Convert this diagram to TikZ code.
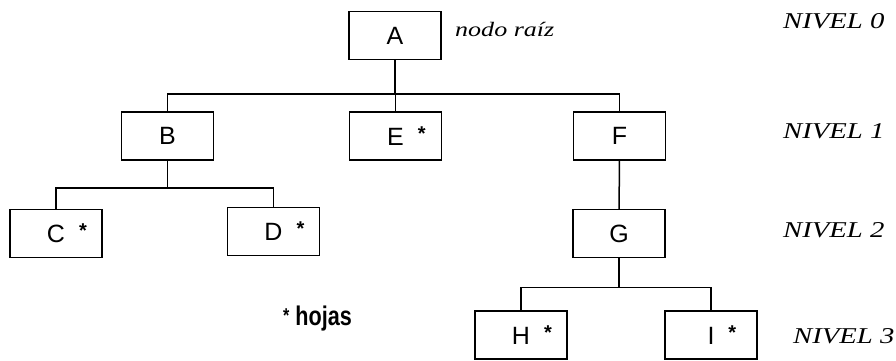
\documentclass[tikz,border=0pt]{standalone}
\usepackage{fontspec}
\setmainfont{Liberation Sans}
\newfontfamily\nivelfont[FakeStretch=1.27]{Liberation Serif}
\newfontfamily\hojasfont[FakeStretch=0.8]{Liberation Sans}
\usetikzlibrary{calc,positioning}

\tikzset{
  caja/.style={draw,line width=1.5pt,minimum width=92pt,minimum height=48pt,inner sep=0pt,font=\fontsize{25}{25}\selectfont},
  rama/.style={line width=1.5pt},
  nivel/.style={anchor=base west,inner sep=0pt,font=\nivelfont\itshape\fontsize{22.6}{24}\selectfont}
}
\newcommand{\hoja}[1]{#1\rlap{\hspace{14pt}\raisebox{5pt}{\fontsize{20}{20}\selectfont\bfseries *}}}

\begin{document}
\begin{tikzpicture}[x=1pt,y=1pt]
        \useasboundingbox (0,0) rectangle (896,-360);

        % nodos del arbol
        \node[caja] (A) at (395,-35.5) {A};
        \node[caja] (B) at (167.5,-136) {B};
        \node[caja] (E) at (395.5,-136) {\hoja{E}};
        \node[caja] (F) at (619.5,-136) {F};
        \node[caja] (C) at (56,-233.5) {\hoja{C}};
        \node[caja] (D) at (273.5,-231.5) {\hoja{D}};
        \node[caja] (G) at (619,-233.5) {G};
        \node[caja] (H) at (521,-335) {\hoja{H}};
        \node[caja] (I) at (711,-335) {\hoja{I}};

        \coordinate (jA) at ($(A.south)+(0,-33.5)$);
        \coordinate (jB) at ($(B.south)+(0,-27)$);
        \coordinate (jG) at ($(G.south)+(0,-29)$);

        \draw[rama] (A) -- (jA);
        \foreach \c in {B,E,F} {
          \draw[rama] (jA) -| (\c);
        }
        \draw[rama] (B) -- (jB);
        \foreach \c in {C,D} {
          \draw[rama] (jB) -| (\c);
        }
        \draw[rama] (F) -- (G);
        \draw[rama] (G) -- (jG);
        \foreach \c in {H,I} {
          \draw[rama] (jG) -| (\c);
        }

        % etiquetas
        \node[nivel,font=\nivelfont\itshape\fontsize{20.5}{22}\selectfont] (raiz) at (455,-36) {nodo raíz};
        \foreach \n/\x/\y in {0/783/-28,1/783/-138,2/783/-237,3/793/-343} {
          \node[nivel] (nivel\n) at (\x,\y) {NIVEL \n};
        }
        \node[anchor=base west,inner sep=0pt,font=\hojasfont\bfseries\fontsize{27}{27}\selectfont] (hojas) at (283,-325) {{\fontsize{20}{20}\selectfont\raisebox{3pt}{*}} hojas};
      \end{tikzpicture}
\end{document}
